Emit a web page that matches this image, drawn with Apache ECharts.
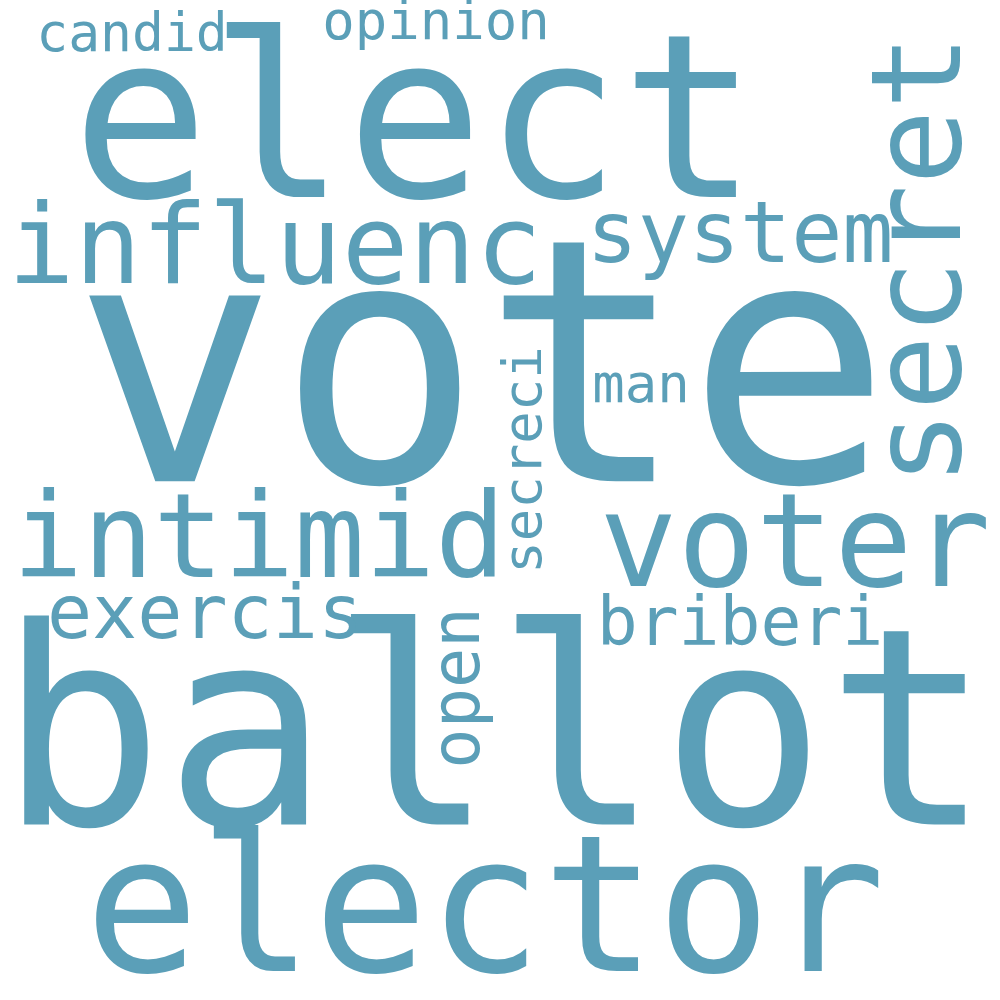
<!DOCTYPE html>
<html><head><meta charset="utf-8">
<script src="https://cdn.jsdelivr.net/npm/echarts@6/dist/echarts.min.js"></script>
<style>html,body{margin:0;padding:0;background:#fff}#c{width:1000px;height:1000px}</style>
</head><body><div id="c"></div>
<script>
const words   = ['vote','ballot','elect','elector','influenc','intimid','voter','secret','system','exercis','briberi','open','secreci','man','candid','opinion'];
const weights = [340,275,228,190,111,117,130,125,85,75,68,67,54,54,53,54];
const posX    = [482,495,415,485,275,259,795,928,740,205,740,462,527,641,132,436];
const posY    = [393,753,138,922,254,547,552,260,240,619,627,688,460,388,37,25];
const rotations = [0,0,0,0,0,0,0,90,0,0,0,90,90,0,0,0];

const data = words.map((w,i)=>({
  value:[posX[i],posY[i]], name:w,
  label:{fontSize:weights[i], rotate:rotations[i]}
}));
const chart = echarts.init(document.getElementById('c'));
chart.setOption({
  backgroundColor:'#fff',
  grid:{left:0,right:0,top:0,bottom:0},
  xAxis:{type:'value',min:0,max:1000,show:false},
  yAxis:{type:'value',min:0,max:1000,inverse:true,show:false},
  series:[{type:'scatter',symbolSize:0,data,animation:false,
    itemStyle:{opacity:1},
    label:{show:true,position:'inside',formatter:p=>p.name,color:'#5b9fb8',opacity:1,
      fontFamily:'DejaVu Sans Mono',align:'center',verticalAlign:'middle'}}]
});
</script></body></html>
